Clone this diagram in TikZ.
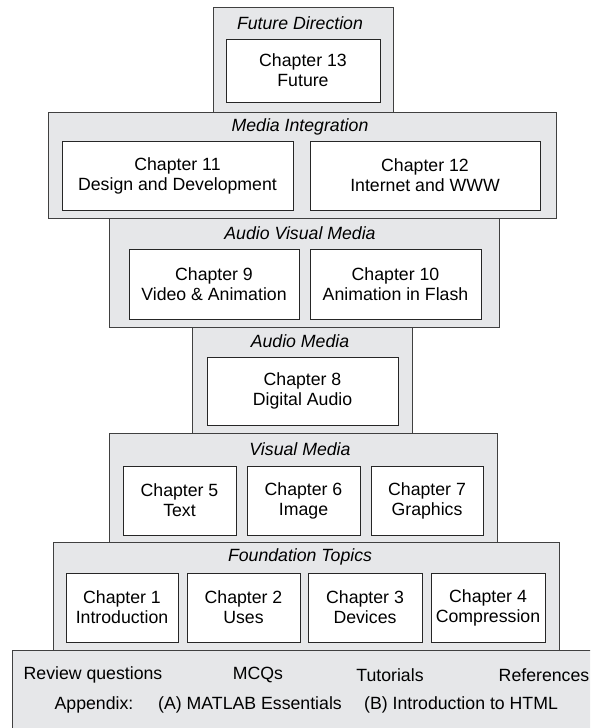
\documentclass[tikz,border=0pt]{standalone}
\usepackage{fontspec}
\setmainfont{Liberation Sans}
\definecolor{layergray}{RGB}{230,231,233}
\begin{document}
\begin{tikzpicture}[x=1pt,y=-1pt,
  layer/.style={draw=black!75, fill=layergray, line width=0.9pt},
  chap/.style={draw=black!85, fill=white, line width=0.9pt, align=center,
    inner sep=0pt, minimum height=69pt, font=\fontsize{17.7}{20}\selectfont},
  head/.style={font=\fontsize{17.7}{20}\selectfont\itshape},
  note/.style={font=\fontsize{17.7}{20}\selectfont}]
  \clip (0,0) rectangle (590,728);
  %layers
  \draw[layer] (213,7) rectangle (393,112);
  \draw[layer] (48,112) rectangle (556,218);
  \draw[layer] (109,218) rectangle (499,327);
  \draw[layer] (192,327) rectangle (412,433);
  \draw[layer] (109,433) rectangle (497,542);
  \draw[layer] (53,542) rectangle (559,650);
  \draw[layer] (12,650) rectangle (610,745);
  %titles
  \node[head] (tfuture) at (300,23) {Future Direction};
  \node[head] (tmedia) at (300,127) {Media Integration};
  \node[head] (tav) at (300,233) {Audio Visual Media};
  \node[head] (taudio) at (300,341) {Audio Media};
  \node[head] (tvisual) at (300,449) {Visual Media};
  \node[head] (tfound) at (300,557) {Foundation Topics};
  %chapters
  \node[chap, minimum width=154pt, minimum height=63pt] (ch13) at (303,70.5) {Chapter 13\\Future};
  \node[chap, minimum width=231pt] (ch11) at (177.5,175.5) {Chapter 11\\Design and Development};
  \node[chap, minimum width=230pt] (ch12) at (425,175.5) {Chapter 12\\Internet and WWW};
  \node[chap, minimum width=170pt, minimum height=70pt] (ch9) at (214,284) {Chapter 9\\Video \& Animation};
  \node[chap, minimum width=171pt, minimum height=70pt] (ch10) at (395.5,284) {Chapter 10\\Animation in Flash};
  \node[chap, minimum width=191pt, minimum height=68pt] (ch8) at (302.5,391) {Chapter 8\\Digital Audio};
  \node[chap, minimum width=113pt] (ch5) at (179.5,500.5) {Chapter 5\\Text};
  \node[chap, minimum width=113pt] (ch6) at (303.5,500.5) {Chapter 6\\Image};
  \node[chap, minimum width=112pt] (ch7) at (427,500.5) {Chapter 7\\Graphics};
  \node[chap, minimum width=112pt] (ch1) at (122,607.5) {Chapter 1\\Introduction};
  \node[chap, minimum width=113pt] (ch2) at (243.5,607.5) {Chapter 2\\Uses};
  \node[chap, minimum width=114pt] (ch3) at (365,607.5) {Chapter 3\\Devices};
  \node[chap, minimum width=114pt] (ch4) at (488,607.5) {Chapter 4\\Compression};
  %extras
  \node[note] (review) at (93,675) {Review questions};
  \node[note] (mcq) at (258,675) {MCQs};
  \node[note] (tutor) at (390,675) {Tutorials};
  \node[note] (refs) at (544,675) {References};
  \node[note] (appx) at (94,705) {Appendix:};
  \node[note] (appa) at (250,705) {(A) MATLAB Essentials};
  \node[note] (appb) at (461,705) {(B) Introduction to HTML};
\end{tikzpicture}
\end{document}
